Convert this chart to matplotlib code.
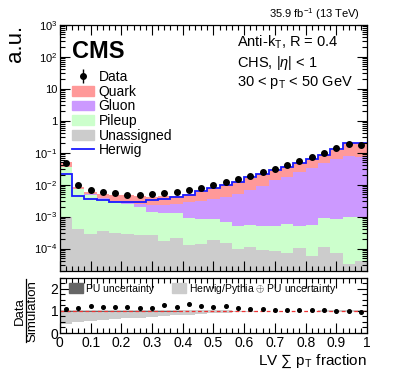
import matplotlib

matplotlib.use("Agg")
import matplotlib.pyplot as plt
import matplotlib.ticker as mticker
from matplotlib.patches import Patch
from matplotlib.lines import Line2D
import numpy as np

plt.rcParams["font.family"] = ["Liberation Sans", "DejaVu Sans"]
plt.rcParams["mathtext.fontset"] = "custom"
plt.rcParams["mathtext.rm"] = "Liberation Sans"
plt.rcParams["mathtext.it"] = "Liberation Sans:italic"
plt.rcParams["mathtext.bf"] = "Liberation Sans:bold"

# --- 25 bins of LV sum pT fraction ---
EDGES = np.linspace(0, 1, 26)

DATA = [0.048, 0.0095, 0.0069, 0.0059, 0.0055, 0.0049, 0.0049, 0.0051, 0.0056, 0.0060,
        0.0069, 0.0079, 0.010, 0.012, 0.015, 0.018, 0.024, 0.031, 0.041, 0.055,
        0.075, 0.10, 0.14, 0.19, 0.17]

UNASSIGNED = [9.8e-4, 4.0e-4, 2.9e-4, 3.5e-4, 3.1e-4, 2.9e-4, 2.7e-4, 2.6e-4, 1.7e-4, 2.2e-4,
              1.25e-4, 1.4e-4, 1.8e-4, 1.5e-4, 1.0e-4, 1.15e-4, 9.0e-5, 8.6e-5, 7.0e-5, 1.07e-4,
              6.0e-5, 1.15e-4, 7.5e-5, 3.3e-5, 4.2e-5]
PILEUP = [0.035, 0.0070, 0.0046, 0.0033, 0.0026, 0.0021, 0.0017, 0.0011, 0.0011, 0.0011,
          7.8e-4, 7.3e-4, 6.4e-4, 5.1e-4, 4.1e-4, 4.5e-4, 4.2e-4, 4.2e-4, 5.3e-4, 4.0e-4,
          4.9e-4, 7.6e-4, 7.5e-4, 9.7e-4, 9.6e-4]
GLUON = [5e-4, 1e-4, 1e-4, 1e-4, 2e-4, 3e-4, 5e-4, 0.0010, 0.0011, 0.0012,
         0.0019, 0.0021, 0.0028, 0.0033, 0.0047, 0.0063, 0.0088, 0.0130, 0.0164, 0.0235,
         0.0325, 0.0451, 0.0622, 0.0760, 0.0730]
QUARK = [0.013, 0.0010, 0.0010, 0.0012, 0.0016, 0.0019, 0.0019, 0.0018, 0.0019, 0.0020,
         0.0022, 0.0030, 0.0040, 0.0057, 0.0068, 0.0091, 0.0120, 0.0140, 0.018, 0.023,
         0.028, 0.038, 0.062, 0.118, 0.120]

HERWIG = [0.021, 0.0043, 0.0036, 0.0032, 0.0028, 0.0028, 0.0029, 0.0032, 0.0036, 0.0042,
          0.0049, 0.0062, 0.0079, 0.010, 0.0125, 0.0167, 0.022, 0.028, 0.036, 0.049,
          0.063, 0.087, 0.13, 0.20, 0.20]

RATIO = [1.08, 1.15, 1.21, 1.19, 1.18, 1.18, 1.15, 1.15, 1.29, 1.19,
         1.33, 1.23, 1.18, 1.21, 1.12, 1.08, 1.09, 1.06, 1.05, 1.05,
         1.05, 1.05, 1.00, 1.00, 0.95]

# Herwig/Pythia (+) PU band and PU-only band
SYST_LO = [0.42, 0.50, 0.55, 0.60, 0.63, 0.66, 0.68, 0.74, 0.76, 0.80,
           0.83, 0.88, 0.90, 0.92, 0.97, 0.97, 0.98, 0.98, 0.98, 0.98,
           0.98, 0.97, 0.97, 0.96, 0.93]
SYST_HI = [1.04, 1.03, 1.03, 1.03, 1.03, 1.03, 1.03, 1.03, 1.03, 1.03,
           1.03, 1.03, 1.03, 1.03, 1.02, 1.02, 1.02, 1.02, 1.02, 1.02,
           1.02, 1.03, 1.03, 1.04, 1.05]
PU_LO = [0.93, 0.94, 0.95, 0.95, 0.96, 0.96, 0.96, 0.97, 0.97, 0.97,
         0.98, 0.98, 0.98, 0.98, 0.99, 0.99, 0.99, 0.99, 0.99, 0.99,
         0.99, 0.99, 0.99, 0.99, 0.99]
PU_HI = [1.02, 1.02, 1.02, 1.02, 1.02, 1.02, 1.02, 1.01, 1.01, 1.01,
         1.01, 1.01, 1.01, 1.01, 1.01, 1.01, 1.01, 1.01, 1.01, 1.01,
         1.01, 1.01, 1.01, 1.01, 1.01]

COLORS = {
    "Quark": "#ff9999",
    "Gluon": "#cc99ff",
    "Pileup": "#ccffcc",
    "Unassigned": "#cccccc",
}

centers = 0.5 * (EDGES[:-1] + EDGES[1:])

fig = plt.figure(figsize=(3.99, 3.87), dpi=100)
ax = fig.add_axes([0.150, 0.300, 0.770, 0.636])
rax = fig.add_axes([0.150, 0.1395, 0.770, 0.1425])

# --- stacked simulation ---
layers = [("Unassigned", UNASSIGNED), ("Pileup", PILEUP), ("Gluon", GLUON), ("Quark", QUARK)]
base = np.full(len(centers), 1e-7)
for name, vals in layers:
    top = base + np.array(vals)
    ax.stairs(top, EDGES, baseline=base, fill=True, color=COLORS[name], lw=0)
    base = top

ax.stairs(HERWIG, EDGES, baseline=None, color="#1a1aff", lw=1.3)
data = np.array(DATA)
eb = ax.errorbar(centers, data, yerr=0.04 * data, fmt="o", color="k", ms=4,
                 elinewidth=1, capsize=0, zorder=5)

ax.set_yscale("log")
ax.set_xlim(0, 1)
ax.set_ylim(2e-5, 1e3)


def log_fmt(v, pos):
    e = int(round(np.log10(v)))
    if e == 0:
        return "1"
    if e == 1:
        return "10"
    return rf"$10^{{{e}}}$"


ax.yaxis.set_major_locator(mticker.LogLocator(base=10, numticks=20))
ax.yaxis.set_minor_locator(mticker.LogLocator(base=10, subs=np.arange(2, 10), numticks=20))
ax.yaxis.set_major_formatter(mticker.FuncFormatter(log_fmt))
ax.yaxis.set_minor_formatter(mticker.NullFormatter())
ax.xaxis.set_major_locator(mticker.MultipleLocator(0.1))
ax.xaxis.set_minor_locator(mticker.MultipleLocator(0.02))
ax.tick_params(axis="x", labelbottom=False)

for a in (ax, rax):
    a.tick_params(which="both", direction="in", top=True, right=True, width=0.8)
    a.tick_params(which="major", length=7)
    a.tick_params(which="minor", length=3.5)
    for s in a.spines.values():
        s.set_linewidth(0.9)
ax.tick_params(axis="y", labelsize=8, pad=2)

ax.set_ylabel("a.u.", fontsize=16, loc="top", labelpad=6)

ax.text(0.038, 0.94, "CMS", transform=ax.transAxes, fontsize=17, fontweight="bold",
        ha="left", va="top")
ax.text(0.977, 1.012, r"35.9 fb$^{-1}$ (13 TeV)", transform=ax.transAxes,
        fontsize=8, ha="right", va="bottom")
ax.text(0.577, 0.911, r"Anti-k$_\mathrm{T}$, R = 0.4", transform=ax.transAxes,
        fontsize=10.5, ha="left", va="baseline")
ax.text(0.577, 0.828, r"CHS, |$\eta$| < 1", transform=ax.transAxes,
        fontsize=10.5, ha="left", va="baseline")
ax.text(0.577, 0.750, r"30 < p$_\mathrm{T}$ < 50 GeV", transform=ax.transAxes,
        fontsize=10.5, ha="left", va="baseline")

handles = [eb] + [Patch(color=COLORS[n]) for n in ("Quark", "Gluon", "Pileup", "Unassigned")] + \
    [Line2D([], [], color="#1a1aff", lw=1.3)]
labels = ["Data", "Quark", "Gluon", "Pileup", "Unassigned", "Herwig"]
ax.legend(handles, labels, loc="upper left", bbox_to_anchor=(0.04, 0.815), frameon=False,
          fontsize=10, handlelength=1.6, handleheight=0.7, labelspacing=0.04,
          handletextpad=0.3, borderpad=0, borderaxespad=0)

# --- ratio panel ---
rax.stairs(SYST_HI, EDGES, baseline=SYST_LO, fill=True, color="#cccccc", lw=0)
rax.stairs(PU_HI, EDGES, baseline=PU_LO, fill=True, color="#666666", lw=0)
rax.axhline(1, color="#ee3333", ls="--", lw=0.9, dashes=(3, 2))
rax.errorbar(centers, RATIO, yerr=0.03, fmt="o", color="k", ms=2.6, elinewidth=0.8,
             capsize=0, zorder=5)
rax.set_xlim(0, 1)
rax.set_ylim(0, 2.5)
rax.yaxis.set_major_locator(mticker.FixedLocator([0, 1, 2]))
rax.yaxis.set_minor_locator(mticker.MultipleLocator(0.25))
rax.xaxis.set_major_locator(mticker.MultipleLocator(0.1))
rax.xaxis.set_minor_locator(mticker.MultipleLocator(0.02))
rax.xaxis.set_major_formatter(mticker.FuncFormatter(lambda v, p: "0" if v == 0 else ("1" if v == 1 else f"{v:.1f}")))
rax.tick_params(axis="x", labelsize=10, pad=2)
rax.tick_params(axis="y", labelsize=10, pad=1)

rax.legend([Patch(color="#666666"), Patch(color="#cccccc")],
           ["PU uncertainty", r"Herwig/Pythia $\oplus$ PU uncertainty"],
           loc="upper left", bbox_to_anchor=(0.03, 0.93), ncol=2, frameon=False,
           fontsize=7.5, handlelength=1.3, handleheight=1.1, handletextpad=0.35,
           columnspacing=1.7, borderpad=0, borderaxespad=0)

# ratio y title drawn as a stacked fraction
fig.text(0.049, 0.197, "Data", rotation=90, fontsize=9.5, ha="center", va="center")
fig.text(0.082, 0.197, "Simulation", rotation=90, fontsize=9.5, ha="center", va="center")
fig.add_artist(Line2D([0.066, 0.066], [0.117, 0.280], color="k", lw=0.9,
                      transform=fig.transFigure))
rax.set_xlabel(r"LV $\sum$ p$_\mathrm{T}$ fraction", fontsize=11, loc="right", labelpad=2)

fig.savefig("out.png", dpi=100)
